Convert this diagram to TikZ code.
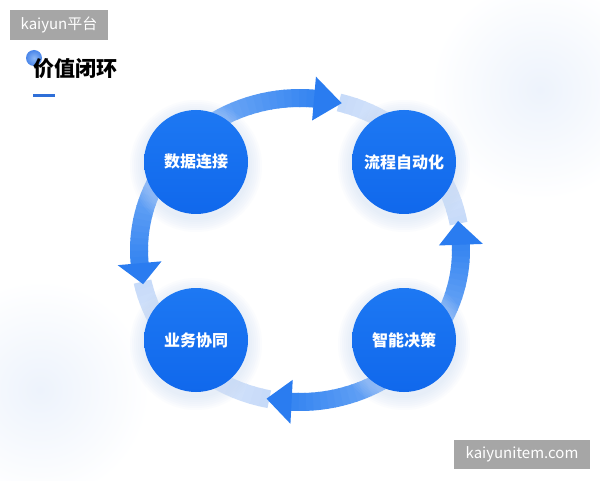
\documentclass[tikz,border=0pt]{standalone}
\usepackage{fontspec}
\setmainfont{Noto Sans CJK SC}
\definecolor{circblueA}{HTML}{1D78F3}
\definecolor{circblueB}{HTML}{1068EC}
\definecolor{shaftlight}{HTML}{8DBBF7}
\definecolor{shaftstrong}{HTML}{3484F1}
\definecolor{headblue}{HTML}{2A7CF0}
\definecolor{paleA}{HTML}{C6DAF9}
\definecolor{paleB}{HTML}{E5EEFC}
\definecolor{glow}{HTML}{C9DCF6}
\definecolor{wmgray}{HTML}{A6A6A6}
\definecolor{barblue}{HTML}{2F6FD8}
\definecolor{dotlight}{HTML}{8DB8F5}
\definecolor{dotdark}{HTML}{4A86EA}
\definecolor{bgblue}{HTML}{EDF3FC}
\newcommand\ringpart[5]{%
  \foreach \i in {1,...,#5}{%
    \pgfmathsetmacro\aa{#1+(#2-#1)*(\i-1)/#5}%
    \pgfmathsetmacro\bb{#1+(#2-#1)*(\i)/#5+sign(#2-#1)*0.4}%
    \pgfmathsetmacro\pc{int(100*(\i-0.5)/#5)}%
    \colorlet{segc}{#4!\pc!#3}%
    \draw[segc,line width=18pt] ({300+161*cos(\aa)},{230+152*sin(\aa)}) arc[start angle=\aa,end angle=\bb,x radius=161,y radius=152];
  }}
\newcommand\ringhead[2]{%
  \fill[headblue] ({300+183*cos(#1)},{230+174*sin(#1)}) -- ({300+161*cos(#2)},{230+152*sin(#2)}) -- ({300+139*cos(#1)},{230+130*sin(#1)}) -- cycle;}
\tikzset{
  bubble/.style={circle, minimum size=104pt, inner sep=0pt, top color=circblueA, bottom color=circblueB, draw=none, text=white, font=\bfseries\fontsize{16}{16}\selectfont},
  wmbox/.style={fill=wmgray, text=white, inner sep=0pt, font=\fontsize{15}{15}\selectfont},
}
\begin{document}
\begin{tikzpicture}[x=1pt,y=1pt]
\useasboundingbox (0,0) rectangle (600,480);
\fill[white] (0,0) rectangle (600,480);
\begin{scope}
\clip (0,0) rectangle (600,480);
\shade[inner color=bgblue, outer color=white] (540,390) circle[radius=110];
\shade[inner color=bgblue, outer color=white] (40,90) circle[radius=110];
\end{scope}
% pale trailing parts
\ringpart{76}{42}{paleA}{paleB}{12}
\ringpart{10}{42}{paleA}{paleB}{12}
\ringpart{-101}{-138}{paleA}{paleB}{12}
\ringpart{192}{222}{paleA}{paleB}{12}
% shafts
\ringpart{138}{85}{shaftlight}{shaftstrong}{20}
\ringpart{-42}{2}{shaftlight}{shaftstrong}{20}
\ringpart{-42}{-93}{shaftlight}{shaftstrong}{20}
\ringpart{138}{185}{shaftlight}{shaftstrong}{20}
% heads
\ringhead{85}{75}
\ringhead{2}{11}
\ringhead{-93}{-102}
\ringhead{185}{193}
% glows
\foreach \cx/\cy in {196/318,404/318,196/140,404/140}{
  \foreach \r in {54,56,...,66}{
    \fill[glow,opacity=0.07] (\cx,\cy-4) circle[radius=\r];
  }
}
\node[bubble] (c1) at (196,318) {数据连接};
\node[bubble] (c2) at (404,318) {流程自动化};
\node[bubble] (c3) at (196,140) {业务协同};
\node[bubble] (c4) at (404,140) {智能决策};
% title
\shade[inner color=dotlight, outer color=dotdark] (34,422) circle[radius=8];
\node[anchor=west, inner sep=0pt, font=\bfseries\fontsize{21}{21}\selectfont] (title) at (33,411) {价值闭环};
\fill[barblue] (33,382.5) rectangle (55,385.5);
% watermarks
\node[wmbox, minimum width=98pt, minimum height=30pt] (w1) at (59,455) {kaiyun平台};
\node[wmbox, minimum width=136pt, minimum height=29pt] (w2) at (522,25.5) {kaiyunitem.com};
\end{tikzpicture}
\end{document}
